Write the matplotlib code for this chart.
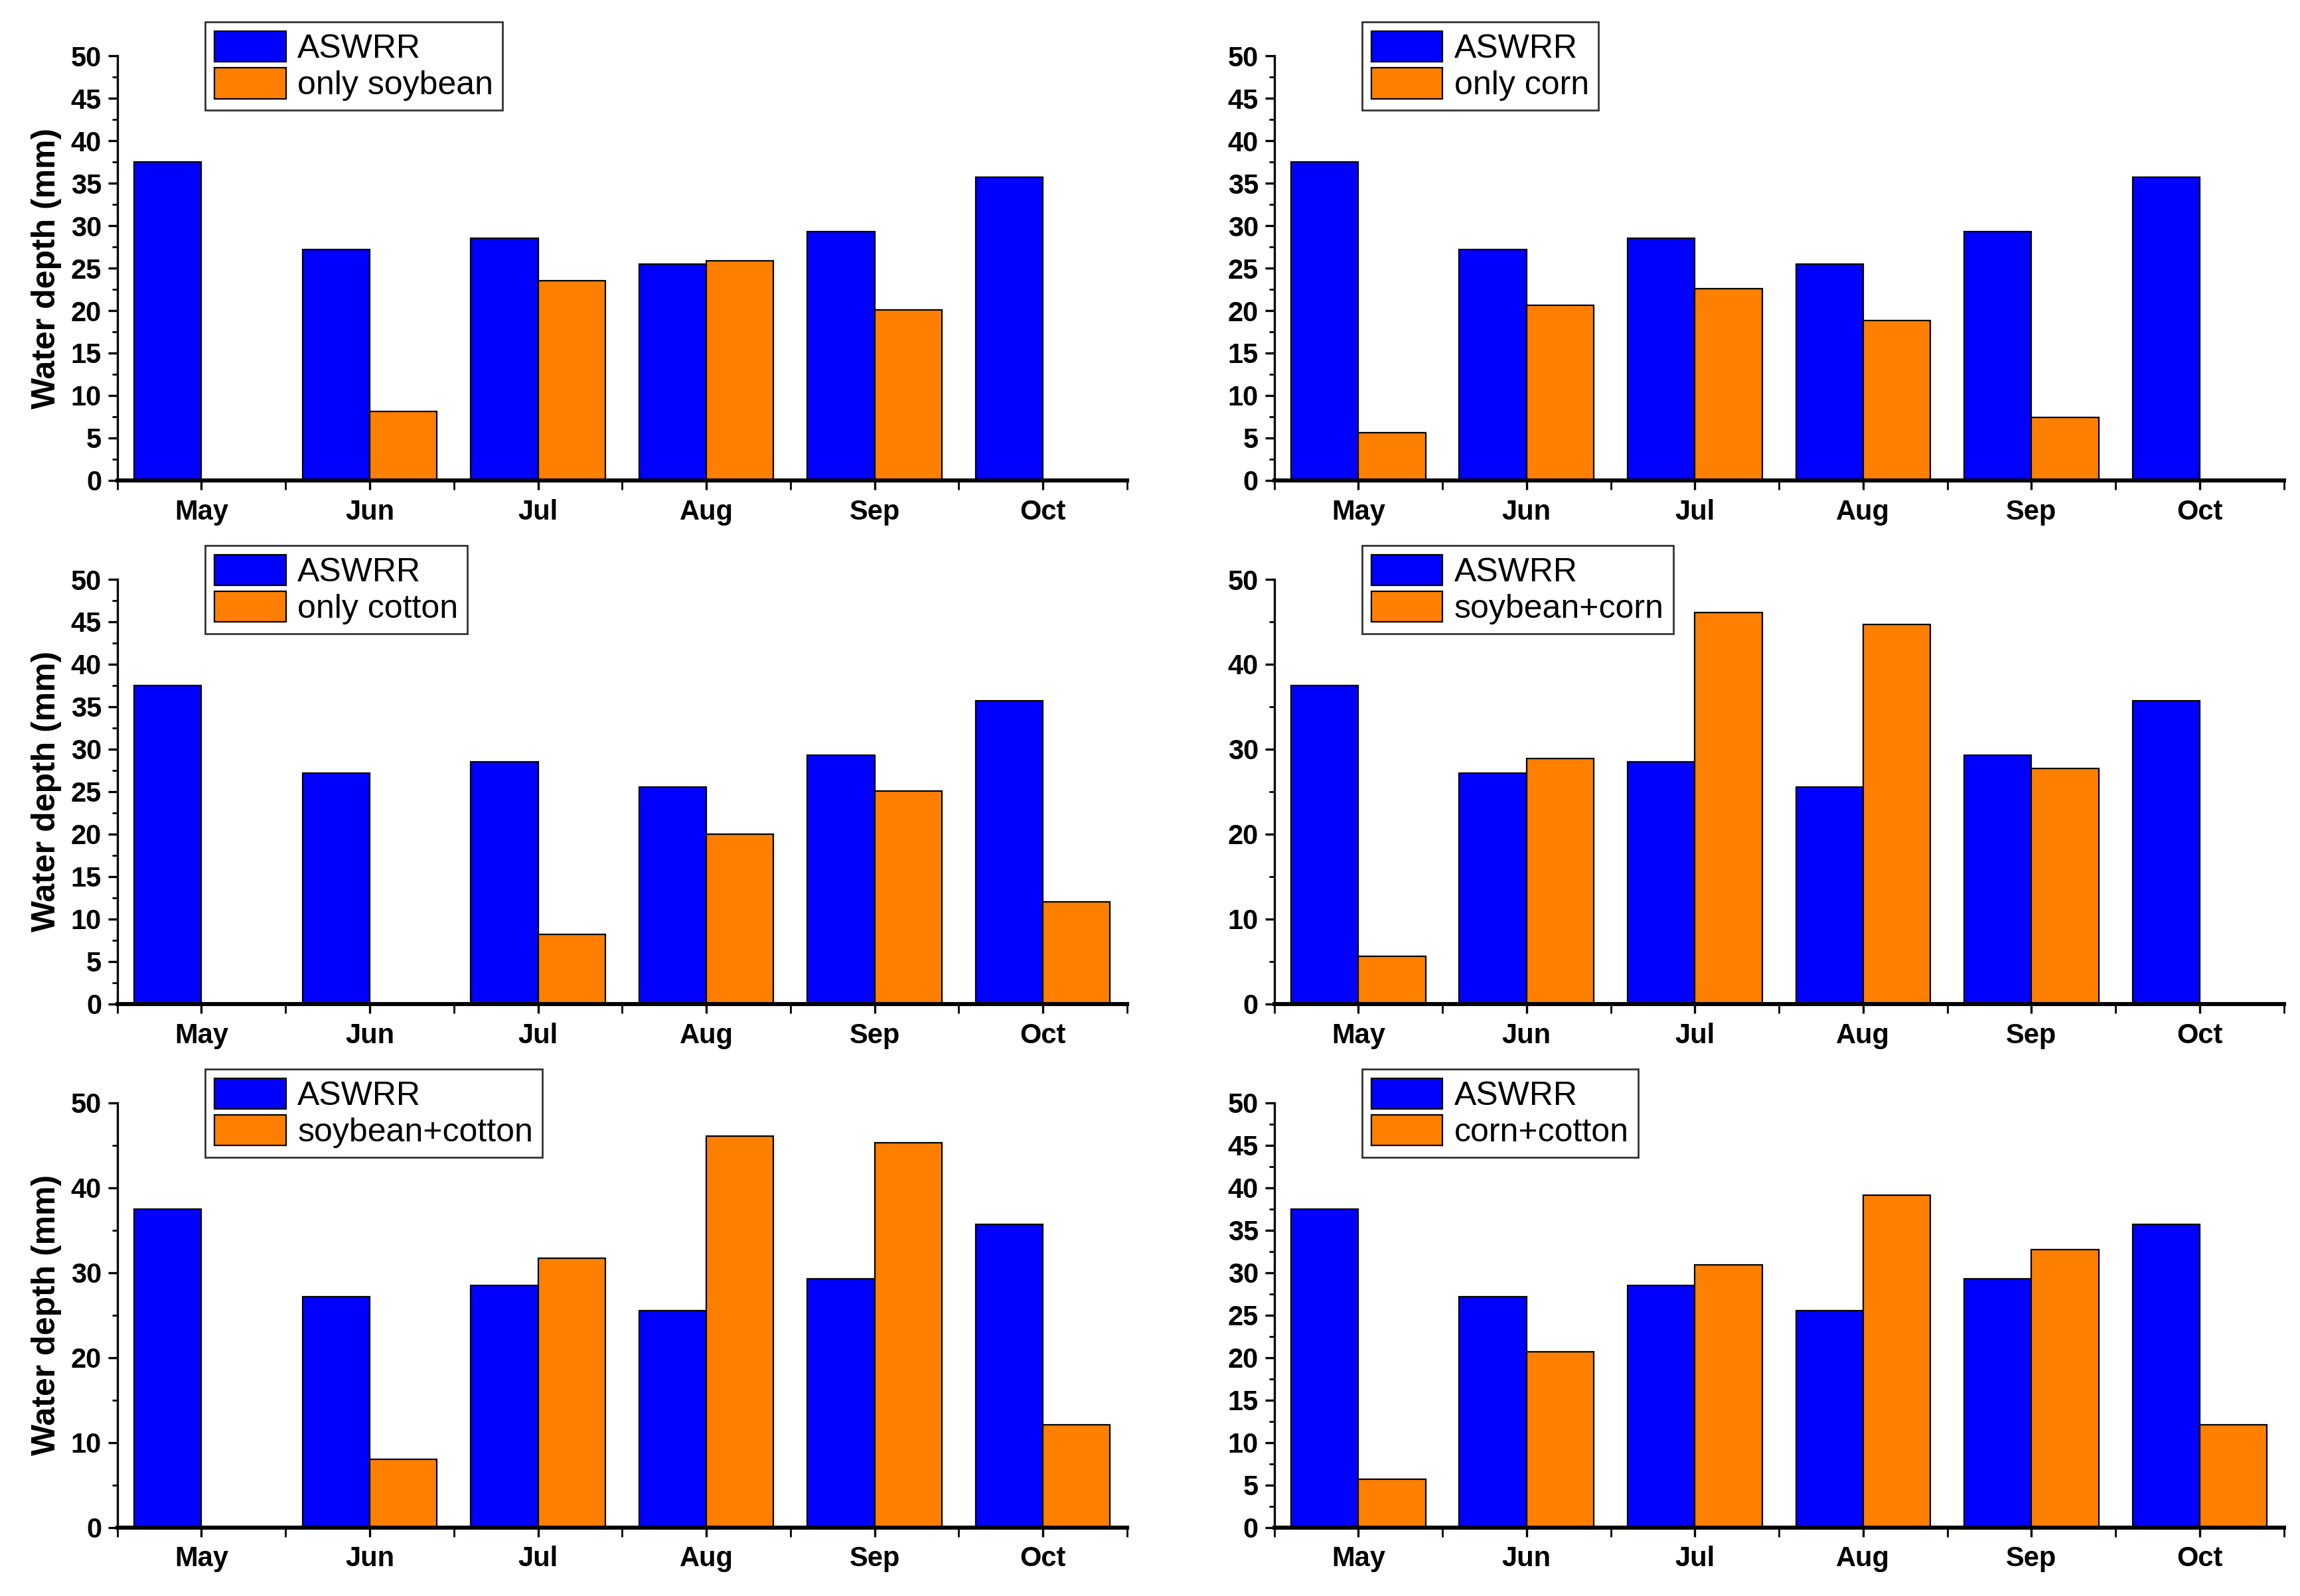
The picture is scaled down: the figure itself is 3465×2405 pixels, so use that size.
import numpy as np
import matplotlib.pyplot as plt
from matplotlib.ticker import MultipleLocator

months = ["May", "Jun", "Jul", "Aug", "Sep", "Oct"]
aswrr = [37.5, 27.2, 28.5, 25.5, 29.3, 35.7]

only_soybean = [0, 8.1, 23.5, 25.9, 20.1, 0]
only_corn = [5.6, 20.6, 22.6, 18.8, 7.4, 0]
only_cotton = [0, 0, 8.2, 20.0, 25.1, 12.0]
soybean_corn = [5.6, 28.9, 46.1, 44.7, 27.7, 0]
soybean_cotton = [0, 8.0, 31.7, 46.1, 45.3, 12.1]
corn_cotton = [5.7, 20.7, 30.9, 39.1, 32.7, 12.1]

scenarios = [
    ("only soybean", only_soybean, 5),
    ("only corn", only_corn, 5),
    ("only cotton", only_cotton, 5),
    ("soybean+corn", soybean_corn, 10),
    ("soybean+cotton", soybean_cotton, 10),
    ("corn+cotton", corn_cotton, 5),
]

narrow = ["Liberation Sans Narrow", "Liberation Sans", "DejaVu Sans"]

fig = plt.figure(figsize=(17.325, 12.025), dpi=200)

lefts = [0.051, 0.554]
bottoms = [0.699, 0.371, 0.043]
w, h = 0.439, 0.266

x = np.arange(len(months))
for i, (name, vals, step) in enumerate(scenarios):
    row, col = divmod(i, 2)
    ax = fig.add_axes([lefts[col], bottoms[row], w, h])
    ax.bar(x - 0.2, aswrr, 0.4, color="#0000FF", edgecolor="black", linewidth=0.8, label="ASWRR")
    ax.bar(x + 0.2, vals, 0.4, color="#FF8000", edgecolor="black", linewidth=0.8, label=name)

    ax.set_xlim(-0.5, 5.5)
    ax.set_ylim(0, 50)
    ax.set_xticks(x)
    ax.set_xticklabels(months)
    ax.xaxis.set_minor_locator(plt.FixedLocator(np.arange(-0.5, 6, 1)))
    ax.yaxis.set_major_locator(MultipleLocator(step))
    ax.yaxis.set_minor_locator(MultipleLocator(step / 2))

    for s in ["top", "right"]:
        ax.spines[s].set_visible(False)
    ax.spines["left"].set_linewidth(1.2)
    ax.spines["bottom"].set_linewidth(2.2)

    ax.tick_params(axis="both", which="major", direction="out", length=5, width=1.2)
    ax.tick_params(axis="both", which="minor", direction="out", length=3, width=1.0)
    ax.tick_params(axis="x", which="both", length=5, pad=5)
    for lab in ax.get_xticklabels() + ax.get_yticklabels():
        lab.set_family(narrow)
        lab.set_fontweight("bold")
        lab.set_fontsize(15)

    if col == 0:
        ax.set_ylabel("Water depth (mm)", fontsize=18, fontweight="bold",
                      family=["Liberation Sans", "DejaVu Sans"], labelpad=5)

    leg = ax.legend(loc="upper left", bbox_to_anchor=(0.087, 1.08),
                    prop={"family": narrow, "size": 18},
                    frameon=True, fancybox=False, edgecolor="black",
                    handlelength=2.15, handleheight=1.05, labelspacing=0.1,
                    handletextpad=0.35, borderpad=0.28, borderaxespad=0)
    leg.get_frame().set_linewidth(1.0)
    leg.set_zorder(5)

fig.savefig("out.png", dpi=200)
